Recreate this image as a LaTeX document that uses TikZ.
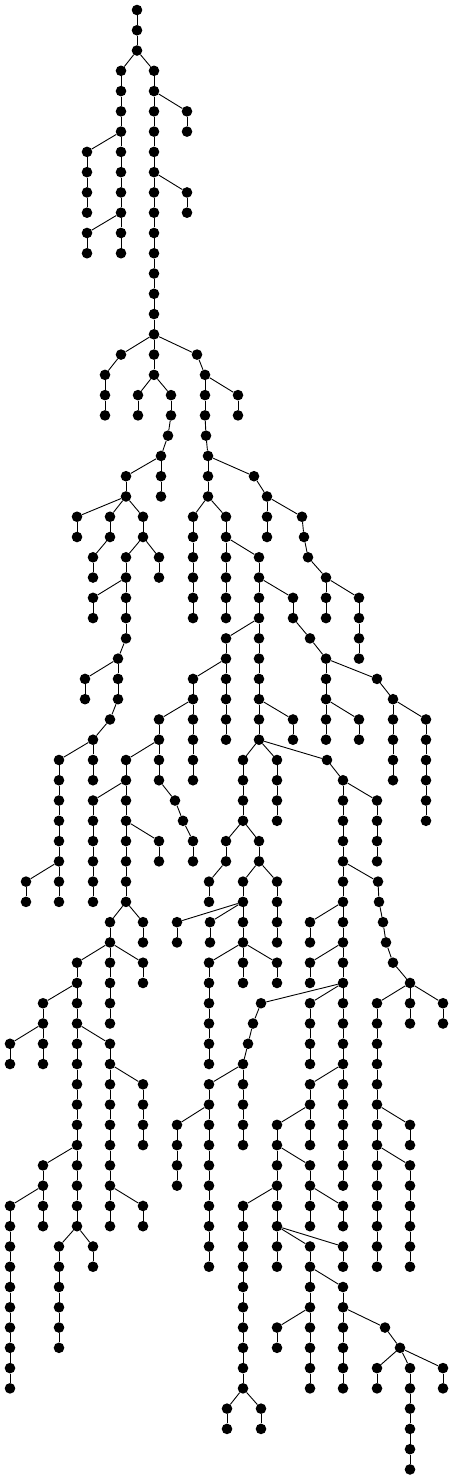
\documentclass[tikz,border=0pt]{standalone}
\begin{document}
\begin{tikzpicture}[x=1pt,y=-1pt,
  v/.style={circle,fill=black,draw=none,inner sep=0pt,minimum size=10.6pt},
  e/.style={line width=0.9pt,black}]
\useasboundingbox (0,0) rectangle (454,1479);
\newcommand\E[3]{%
  \edef\pl{\the\numexpr#1-1\relax}%
  \node[v] (n#1x#2) at (#2,{10+20.27*#1}) {};
  \draw[e] (n\pl x#3) -- (n#1x#2);}
\node[v] (n0x137) at (137,10) {};
\E{1}{137}{137}
\E{2}{137}{137}
\E{3}{121}{137} \E{3}{154}{137}
\E{4}{121}{121} \E{4}{154}{154}
\E{5}{121}{121} \E{5}{154}{154} \E{5}{187}{154}
\E{6}{121}{121} \E{6}{154}{154} \E{6}{187}{187}
\E{7}{87}{121} \E{7}{121}{121} \E{7}{154}{154}
\E{8}{87}{87} \E{8}{121}{121} \E{8}{154}{154}
\E{9}{87}{87} \E{9}{121}{121} \E{9}{154}{154} \E{9}{187}{154}
\E{10}{87}{87} \E{10}{121}{121} \E{10}{154}{154} \E{10}{187}{187}
\E{11}{87}{121} \E{11}{121}{121} \E{11}{154}{154}
\E{12}{87}{87} \E{12}{121}{121} \E{12}{154}{154}
\E{13}{154}{154}
\E{14}{154}{154}
\E{15}{154}{154}
\E{16}{154}{154}
\E{17}{121}{154} \E{17}{154}{154} \E{17}{197}{154}
\E{18}{105}{121} \E{18}{154}{154} \E{18}{205}{197}
\E{19}{105}{105} \E{19}{138}{154} \E{19}{171}{154} \E{19}{205}{205} \E{19}{238}{205}
\E{20}{105}{105} \E{20}{138}{138} \E{20}{171}{171} \E{20}{205}{205} \E{20}{238}{238}
\E{21}{168}{171} \E{21}{206}{205}
\E{22}{161}{168} \E{22}{208}{206}
\E{23}{126}{161} \E{23}{161}{161} \E{23}{208}{208} \E{23}{254}{208}
\E{24}{126}{126} \E{24}{161}{161} \E{24}{208}{208} \E{24}{267}{254}
\E{25}{77}{126} \E{25}{110}{126} \E{25}{143}{126} \E{25}{193}{208} \E{25}{226}{208} \E{25}{267}{267} \E{25}{302}{267}
\E{26}{77}{77} \E{26}{110}{110} \E{26}{143}{143} \E{26}{193}{193} \E{26}{226}{226} \E{26}{267}{267} \E{26}{304}{302}
\E{27}{93}{110} \E{27}{126}{143} \E{27}{159}{143} \E{27}{193}{193} \E{27}{226}{226} \E{27}{259}{226} \E{27}{308}{304}
\E{28}{93}{93} \E{28}{126}{126} \E{28}{159}{159} \E{28}{193}{193} \E{28}{226}{226} \E{28}{259}{259} \E{28}{326}{308}
\E{29}{93}{126} \E{29}{126}{126} \E{29}{193}{193} \E{29}{226}{226} \E{29}{259}{259} \E{29}{293}{259} \E{29}{326}{326} \E{29}{359}{326}
\E{30}{93}{93} \E{30}{126}{126} \E{30}{193}{193} \E{30}{226}{226} \E{30}{259}{259} \E{30}{293}{293} \E{30}{326}{326} \E{30}{359}{359}
\E{31}{126}{126} \E{31}{226}{259} \E{31}{259}{259} \E{31}{310}{293} \E{31}{359}{359}
\E{32}{118}{126} \E{32}{226}{226} \E{32}{259}{259} \E{32}{326}{310} \E{32}{359}{359}
\E{33}{85}{118} \E{33}{118}{118} \E{33}{193}{226} \E{33}{226}{226} \E{33}{259}{259} \E{33}{326}{326} \E{33}{377}{326}
\E{34}{85}{85} \E{34}{118}{118} \E{34}{193}{193} \E{34}{226}{226} \E{34}{259}{259} \E{34}{326}{326} \E{34}{393}{377}
\E{35}{110}{118} \E{35}{159}{193} \E{35}{193}{193} \E{35}{226}{226} \E{35}{259}{259} \E{35}{293}{259} \E{35}{326}{326} \E{35}{359}{326} \E{35}{393}{393} \E{35}{426}{393}
\E{36}{93}{110} \E{36}{159}{159} \E{36}{193}{193} \E{36}{226}{226} \E{36}{259}{259} \E{36}{293}{293} \E{36}{326}{326} \E{36}{359}{359} \E{36}{393}{393} \E{36}{426}{426}
\E{37}{59}{93} \E{37}{93}{93} \E{37}{126}{159} \E{37}{159}{159} \E{37}{193}{193} \E{37}{243}{259} \E{37}{277}{259} \E{37}{327}{259} \E{37}{393}{393} \E{37}{426}{426}
\E{38}{59}{59} \E{38}{93}{93} \E{38}{126}{126} \E{38}{159}{159} \E{38}{193}{193} \E{38}{243}{243} \E{38}{277}{277} \E{38}{343}{327} \E{38}{393}{393} \E{38}{426}{426}
\E{39}{59}{59} \E{39}{93}{126} \E{39}{126}{126} \E{39}{175}{159} \E{39}{243}{243} \E{39}{277}{277} \E{39}{343}{343} \E{39}{377}{343} \E{39}{426}{426}
\E{40}{59}{59} \E{40}{93}{93} \E{40}{126}{126} \E{40}{183}{175} \E{40}{243}{243} \E{40}{277}{277} \E{40}{343}{343} \E{40}{377}{377} \E{40}{426}{426}
\E{41}{59}{59} \E{41}{93}{93} \E{41}{126}{126} \E{41}{159}{126} \E{41}{193}{183} \E{41}{226}{243} \E{41}{259}{243} \E{41}{343}{343} \E{41}{377}{377}
\E{42}{59}{59} \E{42}{93}{93} \E{42}{126}{126} \E{42}{159}{159} \E{42}{193}{193} \E{42}{226}{226} \E{42}{259}{259} \E{42}{343}{343} \E{42}{377}{377}
\E{43}{26}{59} \E{43}{59}{59} \E{43}{93}{93} \E{43}{126}{126} \E{43}{209}{226} \E{43}{243}{259} \E{43}{277}{259} \E{43}{343}{343} \E{43}{378}{343}
\E{44}{26}{26} \E{44}{59}{59} \E{44}{93}{93} \E{44}{126}{126} \E{44}{209}{209} \E{44}{243}{243} \E{44}{277}{277} \E{44}{343}{343} \E{44}{379}{378}
\E{45}{110}{126} \E{45}{143}{126} \E{45}{177}{243} \E{45}{210}{243} \E{45}{243}{243} \E{45}{277}{277} \E{45}{310}{343} \E{45}{343}{343} \E{45}{383}{379}
\E{46}{110}{110} \E{46}{143}{143} \E{46}{177}{177} \E{46}{210}{210} \E{46}{243}{243} \E{46}{277}{277} \E{46}{310}{310} \E{46}{343}{343} \E{46}{386}{383}
\E{47}{77}{110} \E{47}{110}{110} \E{47}{143}{110} \E{47}{209}{243} \E{47}{243}{243} \E{47}{277}{243} \E{47}{310}{343} \E{47}{343}{343} \E{47}{393}{386}
\E{48}{77}{77} \E{48}{110}{110} \E{48}{143}{143} \E{48}{209}{209} \E{48}{243}{243} \E{48}{277}{277} \E{48}{310}{310} \E{48}{343}{343} \E{48}{410}{393}
\E{49}{43}{77} \E{49}{77}{77} \E{49}{110}{110} \E{49}{209}{209} \E{49}{261}{343} \E{49}{310}{343} \E{49}{343}{343} \E{49}{377}{410} \E{49}{410}{410} \E{49}{443}{410}
\E{50}{43}{43} \E{50}{77}{77} \E{50}{110}{110} \E{50}{209}{209} \E{50}{253}{261} \E{50}{310}{310} \E{50}{343}{343} \E{50}{377}{377} \E{50}{410}{410} \E{50}{443}{443}
\E{51}{10}{43} \E{51}{43}{43} \E{51}{77}{77} \E{51}{110}{77} \E{51}{209}{209} \E{51}{248}{253} \E{51}{310}{310} \E{51}{343}{343} \E{51}{377}{377}
\E{52}{10}{10} \E{52}{43}{43} \E{52}{77}{77} \E{52}{110}{110} \E{52}{209}{209} \E{52}{243}{248} \E{52}{310}{310} \E{52}{343}{343} \E{52}{377}{377}
\E{53}{77}{77} \E{53}{110}{110} \E{53}{143}{110} \E{53}{209}{243} \E{53}{243}{243} \E{53}{310}{343} \E{53}{343}{343} \E{53}{377}{377}
\E{54}{77}{77} \E{54}{110}{110} \E{54}{143}{143} \E{54}{209}{209} \E{54}{243}{243} \E{54}{310}{310} \E{54}{343}{343} \E{54}{377}{377}
\E{55}{77}{77} \E{55}{110}{110} \E{55}{143}{143} \E{55}{177}{209} \E{55}{209}{209} \E{55}{243}{243} \E{55}{277}{310} \E{55}{310}{310} \E{55}{343}{343} \E{55}{377}{377} \E{55}{410}{377}
\E{56}{77}{77} \E{56}{110}{110} \E{56}{143}{143} \E{56}{177}{177} \E{56}{209}{209} \E{56}{243}{243} \E{56}{277}{277} \E{56}{310}{310} \E{56}{343}{343} \E{56}{377}{377} \E{56}{410}{410}
\E{57}{43}{77} \E{57}{77}{77} \E{57}{110}{110} \E{57}{177}{177} \E{57}{209}{209} \E{57}{277}{277} \E{57}{310}{277} \E{57}{343}{343} \E{57}{377}{377} \E{57}{410}{377}
\E{58}{43}{43} \E{58}{77}{77} \E{58}{110}{110} \E{58}{177}{177} \E{58}{209}{209} \E{58}{277}{277} \E{58}{310}{310} \E{58}{343}{343} \E{58}{377}{377} \E{58}{410}{410}
\E{59}{10}{43} \E{59}{43}{43} \E{59}{77}{77} \E{59}{110}{110} \E{59}{143}{110} \E{59}{209}{209} \E{59}{243}{277} \E{59}{277}{277} \E{59}{310}{310} \E{59}{343}{310} \E{59}{377}{377} \E{59}{410}{410}
\E{60}{10}{10} \E{60}{43}{43} \E{60}{77}{77} \E{60}{110}{110} \E{60}{143}{143} \E{60}{209}{209} \E{60}{243}{243} \E{60}{277}{277} \E{60}{310}{310} \E{60}{343}{343} \E{60}{377}{377} \E{60}{410}{410}
\E{61}{10}{10} \E{61}{59}{77} \E{61}{93}{77} \E{61}{209}{209} \E{61}{243}{243} \E{61}{277}{277} \E{61}{310}{277} \E{61}{343}{277} \E{61}{377}{377} \E{61}{410}{410}
\E{62}{10}{10} \E{62}{59}{59} \E{62}{93}{93} \E{62}{209}{209} \E{62}{243}{243} \E{62}{277}{277} \E{62}{310}{310} \E{62}{343}{343} \E{62}{377}{377} \E{62}{410}{410}
\E{63}{10}{10} \E{63}{59}{59} \E{63}{243}{243} \E{63}{310}{310} \E{63}{343}{310}
\E{64}{10}{10} \E{64}{59}{59} \E{64}{243}{243} \E{64}{310}{310} \E{64}{343}{343}
\E{65}{10}{10} \E{65}{59}{59} \E{65}{243}{243} \E{65}{277}{310} \E{65}{310}{310} \E{65}{343}{343} \E{65}{385}{343}
\E{66}{10}{10} \E{66}{59}{59} \E{66}{243}{243} \E{66}{277}{277} \E{66}{310}{310} \E{66}{343}{343} \E{66}{400}{385}
\E{67}{10}{10} \E{67}{243}{243} \E{67}{310}{310} \E{67}{343}{343} \E{67}{377}{400} \E{67}{410}{400} \E{67}{443}{400}
\E{68}{10}{10} \E{68}{243}{243} \E{68}{310}{310} \E{68}{343}{343} \E{68}{377}{377} \E{68}{410}{410} \E{68}{443}{443}
\E{69}{227}{243} \E{69}{261}{243} \E{69}{410}{410}
\E{70}{227}{227} \E{70}{261}{261} \E{70}{410}{410}
\E{71}{410}{410}
\E{72}{410}{410}
\end{tikzpicture}
\end{document}
